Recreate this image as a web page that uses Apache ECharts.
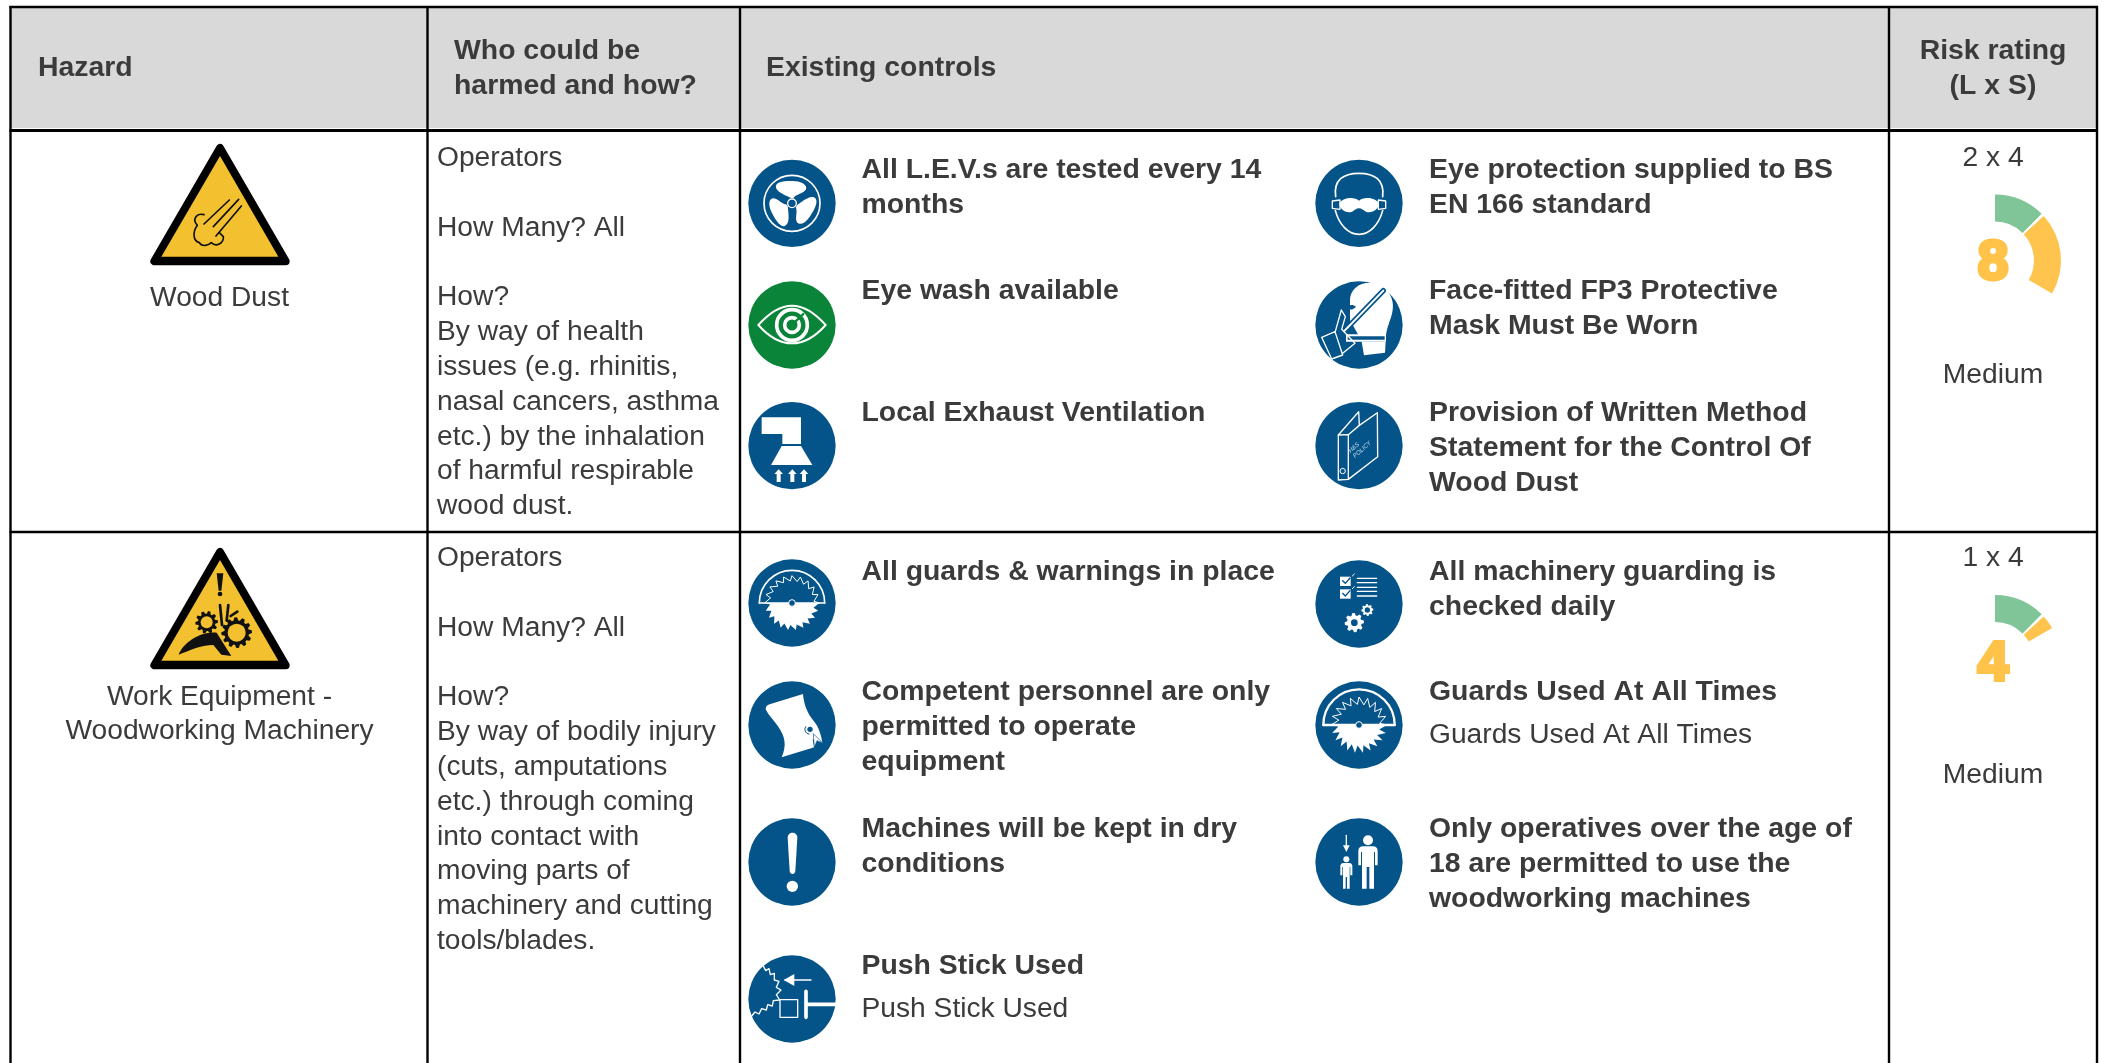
<!DOCTYPE html>
<html>
<head>
<meta charset="utf-8">
<style>html,body{margin:0;padding:0;background:#fff}#main{width:2104px;height:1063px}</style>
<script src="https://cdn.jsdelivr.net/npm/echarts@6/dist/echarts.min.js"></script>
</head>
<body>
<div id="main"></div>
<script>
// table content
var headers = ['Hazard', 'Who could be\nharmed and how?', 'Existing controls', 'Risk rating\n(L x S)'];
var hazards = ['Wood Dust', 'Work Equipment -\nWoodworking Machinery'];
var whoRow1 = ['Operators', '', 'How Many? All', '', 'How?', 'By way of health', 'issues (e.g. rhinitis,', 'nasal cancers, asthma', 'etc.) by the inhalation', 'of harmful respirable', 'wood dust.'];
var whoRow2 = ['Operators', '', 'How Many? All', '', 'How?', 'By way of bodily injury', '(cuts, amputations', 'etc.) through coming', 'into contact with', 'moving parts of', 'machinery and cutting', 'tools/blades.'];
var controlsRow1 = ['All L.E.V.s are tested every 14\nmonths', 'Eye wash available', 'Local Exhaust Ventilation', 'Eye protection supplied to BS\nEN 166 standard', 'Face-fitted FP3 Protective\nMask Must Be Worn', 'Provision of Written Method\nStatement for the Control Of\nWood Dust'];
var controlsRow2 = ['All guards & warnings in place', 'Competent personnel are only\npermitted to operate\nequipment', 'Machines will be kept in dry\nconditions', 'Push Stick Used', 'All machinery guarding is\nchecked daily', 'Guards Used At All Times', 'Only operatives over the age of\n18 are permitted to use the\nwoodworking machines'];
var likelihood = [2, 1];
var severity = [4, 4];
var scores = [8, 4];
var ratings = ['Medium', 'Medium'];
var greenBand = 3;
var gaugeFull = 24;

var TXT = '#3b3b3b', BLUE = '#04548a', GREEN = '#0a8438', YEL = '#f3c02f';
var FONT = '"Liberation Sans", Arial, sans-serif';
var LH = 34.8;
var els = [];

function t(s, x, y, o) {
  o = o || {};
  els.push({type: 'text', silent: true, z: 5, style: {
    text: s, x: x, y: y + 2.4, fill: TXT, fontFamily: FONT, fontSize: o.bold ? 28.4 : 28.2,
    fontWeight: o.bold ? 'bold' : 'normal', textAlign: o.align || 'left', textVerticalAlign: 'middle'
  }});
}
function block(s, x, y, o) {
  (Array.isArray(s) ? s : s.split('\n')).forEach(function(l, i) { if (l) t(l, x, y + i * LH, o); });
}
function ln(x1, y1, x2, y2, w) {
  els.push({type: 'line', silent: true, z: 4, shape: {x1: x1, y1: y1, x2: x2, y2: y2}, style: {stroke: '#000', lineWidth: w}});
}

// grid of the table
var RIGHT = 2097;
els.push({type: 'rect', silent: true, z: 1, shape: {x: 11, y: 7, width: RIGHT - 11, height: 121}, style: {fill: '#d9d9d9'}});
ln(9.5, 7, RIGHT + 1, 7, 2.5);
ln(9.5, 130.5, RIGHT + 1, 130.5, 3);
ln(9.5, 532, RIGHT + 1, 532, 2.5);
[10.5, 427.5, 740, 1889, RIGHT].forEach(function(x) { ln(x, 6, x, 1063, 2.4); });

t(headers[0], 38, 66, {bold: 1});
block(headers[1], 454, 48.5, {bold: 1});
t(headers[2], 766, 66, {bold: 1});
block(headers[3], 1993, 48.5, {bold: 1, align: 'center'});

t(hazards[0], 219.5, 295.5, {align: 'center'});
block(hazards[1], 219.5, 694.5, {align: 'center'});
block(whoRow1, 437, 156);
block(whoRow2, 437, 556);

var colL = 861.5, colR = 1429;
var posRow1 = [[colL, 168], [colL, 289], [colL, 411], [colR, 168], [colR, 289], [colR, 411]];
var posRow2 = [[colL, 569.5], [colL, 690], [colL, 827], [colL, 964], [colR, 569.5], [colR, 690], [colR, 827]];
controlsRow1.forEach(function(c, i) { block(c, posRow1[i][0], posRow1[i][1], {bold: 1}); });
controlsRow2.forEach(function(c, i) { block(c, posRow2[i][0], posRow2[i][1], {bold: 1}); });
t(controlsRow2[3], colL, 1007);
t(controlsRow2[5], colR, 733);

var gaugeY = [260.5, 661];
var rowTop = [156, 556];
scores.forEach(function(s, i) {
  t(likelihood[i] + ' x ' + severity[i], 1993, rowTop[i], {align: 'center'});
  t(ratings[i], 1993, rowTop[i] + 217, {align: 'center'});
  els.push({type: 'text', silent: true, z: 6, style: {
    text: String(s), x: 1993, y: gaugeY[i] + 3.5, fill: '#ffc34a', fontFamily: FONT, fontWeight: 'bold', fontSize: 55,
    textAlign: 'center', textVerticalAlign: 'middle', stroke: '#ffc34a', lineWidth: 4, lineJoin: 'round'
  }});
});

// icon helpers, coordinates are in 3x crop pixels
function P(d, fill, stroke, w, extra) {
  var o = {type: 'path', shape: {pathData: d}, style: {fill: fill || 'none', stroke: stroke || 'none', lineWidth: w || 0, lineJoin: 'round', lineCap: 'round'}};
  for (var k in extra) o[k] = extra[k];
  return o;
}
function C(x, y, r, fill, stroke, w) {
  return {type: 'circle', shape: {cx: x, cy: y, r: r}, style: {fill: fill || 'none', stroke: stroke || 'none', lineWidth: w || 0}};
}
function gear(cx, cy, ro, ri, n) {
  var d = '', step = Math.PI * 2 / n;
  for (var i = 0; i < n; i++) {
    var a = i * step;
    [[ri, -0.5], [ro, -0.3], [ro, 0.05], [ri, 0.25]].forEach(function(q, j) {
      var b = a + q[1] * step;
      d += ((i === 0 && j === 0) ? 'M' : 'L') + (cx + q[0] * Math.cos(b)).toFixed(1) + ',' + (cy + q[0] * Math.sin(b)).toFixed(1);
    });
  }
  return d + 'Z';
}
// saw teeth along an arc, angles in degrees
function teeth(cx, cy, ro, ri, n, a0, a1, close) {
  var d = '';
  for (var i = 0; i <= n; i++) {
    var a = (a0 + (a1 - a0) * i / n) * Math.PI / 180, b = (a0 + (a1 - a0) * (i + 0.75) / n) * Math.PI / 180;
    d += (i === 0 ? 'M' : 'L') + (cx + ro * Math.cos(a)).toFixed(1) + ',' + (cy + ro * Math.sin(a)).toFixed(1);
    if (i < n) d += 'L' + (cx + ri * Math.cos(b)).toFixed(1) + ',' + (cy + ri * Math.sin(b)).toFixed(1);
  }
  return d + (close ? 'Z' : '');
}
function arrowUp(x, y0, y1) {
  return P('M' + (x - 6) + ',' + y1 + 'V' + (y0 + 14) + 'H' + (x - 13) + 'L' + x + ',' + y0 + 'L' + (x + 13) + ',' + (y0 + 14) + 'H' + (x + 6) + 'V' + y1 + 'Z', '#fff');
}
function saw(cx, cy, R, lw, ro, ri, hub) {
  return [
    P(teeth(cx, cy, ro, ri, 11, 0, 180, true), '#fff'),
    P('M' + (cx - R) + ',' + cy + 'A' + R + ',' + R + ' 0 0 1 ' + (cx + R) + ',' + cy, 'none', '#fff', lw),
    P('M' + (cx - R) + ',' + cy + 'H' + (cx + R), 'none', '#fff', lw),
    P(teeth(cx, cy, ro, ri, 10, 180, 360), 'none', '#fff', 3),
    C(cx, cy, hub, BLUE, '#fff', 3)
  ];
}

var W = '#fff';
var icons = [
  {x: 792, y: 203.3, zx: 171, zy: 190, fill: BLUE, draw: function() {
    var bl = 'M-3,-16C-18,-24 -52,-34 -48,-54C-42,-68 -10,-68 10,-66C32,-64 46,-54 42,-42C34,-28 12,-28 5,-16Z';
    return [C(171, 190, 84, 'none', W, 5), {type: 'group', x: 171, y: 190, children: [
      P(bl, W), P(bl, W, null, 0, {rotation: -2.094}), P(bl, W, null, 0, {rotation: 2.094}),
      C(0, 0, 13, BLUE, W, 4)]}];
  }},
  {x: 792, y: 325, zx: 171, zy: 555, fill: GREEN, draw: function() {
    return [P('M70,555C110,510 145,497 171,497C197,497 232,510 272,555C232,600 197,610 171,610C145,610 110,600 70,555Z', 'none', W, 6),
      C(171, 555, 46, 'none', W, 11), C(171, 555, 22, 'none', W, 11), P('M178,548L205,522', 'none', GREEN, 7)];
  }},
  {x: 792, y: 445.7, zx: 171, zy: 917, fill: BLUE, draw: function() {
    return [P('M80,832H198V912H142V882H80Z', W), P('M140,918H198L232,975H108Z', W),
      arrowUp(131, 988, 1026), arrowUp(172, 988, 1026), arrowUp(207, 988, 1026)];
  }},
  {x: 1359, y: 203.3, zx: 177, zy: 190, fill: BLUE, draw: function() {
    return [P('M107,170C100,120 130,100 177,100C224,100 254,120 248,170M106,212C118,255 145,283 177,283C209,283 236,255 248,212', 'none', W, 5),
      P('M97,183L120,180V208L97,205Z', 'none', W, 4), P('M257,183L235,180V208L257,205Z', 'none', W, 4),
      P('M118,190C130,170 165,170 177,182C189,170 224,170 237,190C237,208 215,222 198,215C190,211 185,205 177,205C169,205 164,211 156,215C139,222 118,208 118,190Z', W)];
  }},
  {x: 1359, y: 325, zx: 177, zy: 555, fill: BLUE, draw: function() {
    return [P('M150,480C150,450 175,428 210,428C255,428 285,470 278,510C275,535 262,555 258,585H175L150,540Z', W),
      P('M140,502C150,492 160,494 168,500C158,510 150,512 140,502Z', BLUE),
      P('M134,572L250,452', 'none', BLUE, 16), P('M134,572L250,452', 'none', W, 6),
      P('M138,583H258V605H138Z', W), P('M143,589H254V599H143Z', BLUE),
      P('M185,605H257L255,638L192,646Z', W),
      P('M65,592L105,575L128,645L95,657Z', 'none', W, 4), P('M105,578L124,510L136,530L125,568L165,610L128,640', 'none', W, 4)];
  }},
  {x: 1359, y: 445.7, zx: 177, zy: 917, fill: BLUE, draw: function() {
    return [P('M115,885L176,815L178,856L232,818L233,950L145,1018L115,1020Z', 'none', W, 4),
      P('M115,885L145,884V1018', 'none', W, 4), P('M145,884L178,856', 'none', W, 4), C(128, 993, 8, 'none', W, 3),
      {type: 'text', x: 168, y: 958, rotation: 0.72, style: {text: 'H&S\nPOLICY', fill: '#c9dcec', fontFamily: FONT, fontStyle: 'italic', fontSize: 18, textAlign: 'left', textVerticalAlign: 'bottom', lineHeight: 20}}];
  }},
  {x: 792, y: 603, zx: 171, zy: 160, fill: BLUE, draw: function() { return saw(171, 160, 98, 5, 82, 66, 10); }},
  {x: 792, y: 725, zx: 171, zy: 525, fill: BLUE, draw: function() {
    return [P('M92,478C92,470 96,466 104,463L204,432C206,460 216,490 238,515C252,532 260,560 262,578L233,568L238,592L140,622C156,585 150,560 130,530C115,510 100,495 92,478Z', W),
      C(225, 538, 8, BLUE), P('M212,530A14,14 0 0 0 222,552', 'none', BLUE, 3),
      P('M236,552L262,578L246,572L238,592Z', W, BLUE, 2)];
  }},
  {x: 792, y: 862, zx: 171, zy: 935, fill: BLUE, draw: function() {
    return [P('M158,862C158,842 187,842 187,862L181,962C180,974 165,974 164,962Z', W), C(172, 1008, 17, W)];
  }},
  {x: 792, y: 999, zx: 171, zy: 1347, fill: BLUE, draw: function() {
    return [P('M85,1248L92,1262L102,1256L106,1274L118,1270L118,1290L132,1294L124,1312L138,1320L124,1334L134,1350L115,1352L112,1368L98,1364L94,1380L80,1376L72,1392L60,1386L50,1398', 'none', W, 4),
      P('M150,1290H228', 'none', W, 4), P('M146,1290L178,1272V1308Z', W),
      P('M135,1349H188V1402H135Z', 'none', W, 4),
      P('M213,1324V1402M213,1363H301', 'none', W, 11)];
  }},
  {x: 1359, y: 604, zx: 177, zy: 162, fill: BLUE, draw: function() {
    var ch = [];
    [80, 118].forEach(function(y) {
      ch.push(P('M120,' + y + 'H152V' + (y + 28) + 'H120Z', W));
      ch.push(P('M128,' + (y + 12) + 'L136,' + (y + 20) + 'L150,' + (y + 4), 'none', BLUE, 4));
      ch.push(P('M157,' + (y - 2) + 'L163,' + (y - 8), 'none', W, 3));
    });
    [85, 98, 112, 124, 138].forEach(function(y) { ch.push(P('M172,' + y + 'H230', 'none', W, 4)); });
    ch.push(P(gear(163, 218, 29, 22, 8), W), C(163, 218, 10, BLUE));
    ch.push(P(gear(202, 180, 18, 14, 8), W), C(202, 180, 8, BLUE));
    return ch;
  }},
  {x: 1359, y: 725, zx: 177, zy: 525, fill: BLUE, draw: function() { return saw(177, 525, 107, 7, 84, 62, 10); }},
  {x: 1359, y: 862, zx: 177, zy: 935, fill: BLUE, draw: function() {
    return [C(204, 870, 15, W),
      P('M190,888H218C228,888 233,893 233,902V945H225V905H222V1015H208V950H200V1015H186V905H183V945H175V902C175,893 180,888 190,888Z', W),
      C(139, 927, 9, W),
      P('M130,938H148C154,938 157,942 157,948V975H151V950H149V1015H141V980H137V1015H129V950H127V975H121V948C121,942 124,938 130,938Z', W),
      P('M139,855V888', 'none', W, 4), P('M129,885H149L139,905Z', W)];
  }}
];

// warning signs, drawn in the crop space of the picture
var dustSign = function() {
  return [P('M612,312L688,240M640,320L716,238M648,348L724,258', 'none', '#111', 5),
    P('M612,284C590,278 575,298 592,316C578,335 578,362 598,368C606,382 626,376 634,368C648,382 672,370 670,350L658,338', 'none', '#111', 5)];
};
var machineSign = function() {
  return [P('M650,130H670L664,182H656Z', '#111'), C(660, 192, 7, '#111'),
    P(gear(620, 277, 34, 26, 10), '#111'), C(620, 277, 18, YEL),
    P(gear(710, 308, 46, 37, 12), '#111'), C(710, 308, 27, YEL),
    P('M536,374C550,338 600,304 650,308L694,378L664,374L640,345C600,345 570,362 536,374Z', '#111'),
    P('M660,225L666,285M685,225L680,272M712,245L692,258', 'none', '#111', 8)];
};
var signs = [
  {y: 120, dy: 0, draw: dustSign},
  {y: 530, dy: -18, draw: machineSign}
];

function group(x, y, children) {
  return {type: 'group', x: x, y: y, scaleX: 1 / 3, scaleY: 1 / 3, children: children};
}

var option = {
  animation: false,
  backgroundColor: '#fff',
  graphic: {elements: els},
  series: [{
    type: 'custom',
    coordinateSystem: 'none',
    silent: true,
    z: 3,
    data: icons.map(function(d, i) { return [i]; }),
    renderItem: function(params) {
      var ic = icons[params.dataIndex];
      return group(ic.x, ic.y, [C(0, 0, 131, ic.fill), {type: 'group', x: -ic.zx, y: -ic.zy, children: ic.draw()}]);
    }
  }, {
    type: 'custom',
    coordinateSystem: 'none',
    silent: true,
    z: 3,
    data: signs.map(function(d, i) { return [i]; }),
    renderItem: function(params) {
      var s = signs[params.dataIndex], d = s.dy;
      return group(0, s.y, [
        P('M660,' + (84 + d) + 'L463,' + (424 + d) + 'H857Z', '#000', '#000', 24),
        P('M660,' + (108 + d) + 'L484,' + (410 + d) + 'H835Z', YEL),
        {type: 'group', children: s.draw()}
      ]);
    }
  }].concat(scores.map(function(s, i) {
    var gap = 0.17;
    return {
      type: 'pie',
      silent: true,
      z: 3,
      center: [1995, gaugeY[i]],
      radius: [39, 66],
      startAngle: 90,
      label: {show: false},
      labelLine: {show: false},
      emphasis: {disabled: true},
      data: [
        {value: greenBand, itemStyle: {color: '#80c597'}},
        {value: gap, itemStyle: {color: 'transparent'}},
        {value: s - greenBand - gap, itemStyle: {color: '#ffc44d'}},
        {value: gaugeFull - s, itemStyle: {color: 'transparent'}}
      ]
    };
  }))
};
var myChart = echarts.init(document.getElementById('main'));
myChart.setOption(option);
</script>
</body>
</html>
